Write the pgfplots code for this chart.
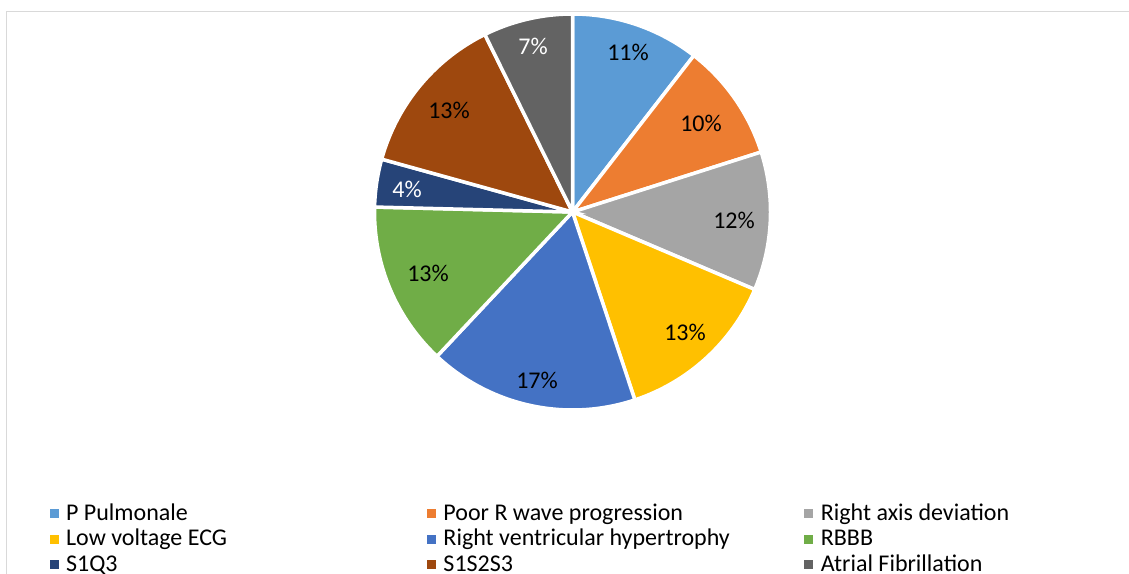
\documentclass[border=0pt]{standalone}
\usepackage{pgfplots}
\pgfplotsset{compat=1.18}
\usepackage{fontspec}
\setmainfont{Carlito}
\definecolor{cA}{HTML}{5B9BD5}
\definecolor{cB}{HTML}{ED7D31}
\definecolor{cC}{HTML}{A5A5A5}
\definecolor{cD}{HTML}{FFC000}
\definecolor{cE}{HTML}{4472C4}
\definecolor{cF}{HTML}{70AD47}
\definecolor{cG}{HTML}{264478}
\definecolor{cH}{HTML}{9E480E}
\definecolor{cI}{HTML}{636363}
\definecolor{bord}{HTML}{D9D9D9}
% Shares (%), clockwise from 12 o'clock:
% P Pulmonale 10.5, Poor R wave 9.6, Right axis 11.3, Low voltage 13.5,
% RVH 17.1, RBBB 13.4, S1Q3 3.9, S1S2S3 13.4, AF 7.3
% Cumulative: 10.5 20.1 31.4 44.9 62.0 75.4 79.3 92.7 100 ; angle = 90 - 3.6*cum
\newcommand{\lbl}[1]{\makebox[361bp][l]{#1}}
\begin{document}
\begin{tikzpicture}
\useasboundingbox (0,0) rectangle (1129bp,574bp);
\begin{axis}[
  at={(0,0)}, anchor=south west,
  scale only axis, width=1129bp, height=574bp,
  xmin=0, xmax=1129, ymin=0, ymax=574, y dir=reverse,
  hide axis, clip=false,
  font=\fontsize{24bp}{28bp}\selectfont,
  legend columns=3,
  legend cell align=left,
  legend style={at={(axis cs:49.5,501)}, anchor=north west, draw=none, fill=none,
    inner sep=0pt, row sep=0pt,
    nodes={inner sep=0pt, text height=19bp, text depth=6.5bp},
    /tikz/every odd column/.append style={column sep=8bp},
    /tikz/every even column/.append style={column sep=0bp},
    font=\fontsize{24bp}{28bp}\selectfont},
]
\def\cx{572.5}\def\cy{212}\def\r{198}
\addplot[forget plot, fill=cA, draw=white, line width=3.5bp, domain=52.2:90, samples=40]
  ({\cx+\r*cos(x)},{\cy-\r*sin(x)}) -- (axis cs:\cx,\cy) -- cycle;
\addplot[forget plot, fill=cB, draw=white, line width=3.5bp, domain=17.64:52.2, samples=40]
  ({\cx+\r*cos(x)},{\cy-\r*sin(x)}) -- (axis cs:\cx,\cy) -- cycle;
\addplot[forget plot, fill=cC, draw=white, line width=3.5bp, domain=-23.04:17.64, samples=40]
  ({\cx+\r*cos(x)},{\cy-\r*sin(x)}) -- (axis cs:\cx,\cy) -- cycle;
\addplot[forget plot, fill=cD, draw=white, line width=3.5bp, domain=-71.64:-23.04, samples=40]
  ({\cx+\r*cos(x)},{\cy-\r*sin(x)}) -- (axis cs:\cx,\cy) -- cycle;
\addplot[forget plot, fill=cE, draw=white, line width=3.5bp, domain=-133.2:-71.64, samples=50]
  ({\cx+\r*cos(x)},{\cy-\r*sin(x)}) -- (axis cs:\cx,\cy) -- cycle;
\addplot[forget plot, fill=cF, draw=white, line width=3.5bp, domain=-181.44:-133.2, samples=40]
  ({\cx+\r*cos(x)},{\cy-\r*sin(x)}) -- (axis cs:\cx,\cy) -- cycle;
\addplot[forget plot, fill=cG, draw=white, line width=3.5bp, domain=-195.48:-181.44, samples=20]
  ({\cx+\r*cos(x)},{\cy-\r*sin(x)}) -- (axis cs:\cx,\cy) -- cycle;
\addplot[forget plot, fill=cH, draw=white, line width=3.5bp, domain=-243.72:-195.48, samples=40]
  ({\cx+\r*cos(x)},{\cy-\r*sin(x)}) -- (axis cs:\cx,\cy) -- cycle;
\addplot[forget plot, fill=cI, draw=white, line width=3.5bp, domain=-270:-243.72, samples=30]
  ({\cx+\r*cos(x)},{\cy-\r*sin(x)}) -- (axis cs:\cx,\cy) -- cycle;

\node at (axis cs:628,52) {11\%};
\node at (axis cs:701,123) {10\%};
\node at (axis cs:734,220) {12\%};
\node at (axis cs:685,332) {13\%};
\node at (axis cs:537,380) {17\%};
\node at (axis cs:428,273) {13\%};
\node[white] at (axis cs:407,189) {4\%};
\node at (axis cs:449,110) {13\%};
\node[white] at (axis cs:533,46) {7\%};

\draw[bord, line width=1.5bp] (axis cs:6.5,620) -- (axis cs:6.5,11.5) -- (axis cs:1200,11.5);

\addlegendimage{legend image code/.code={\fill[cA] (0bp,-3.5bp) rectangle (8bp,4.5bp);}}
\addlegendentry{\lbl{P Pulmonale}}
\addlegendimage{legend image code/.code={\fill[cB] (0bp,-3.5bp) rectangle (8bp,4.5bp);}}
\addlegendentry{\lbl{Poor R wave progression}}
\addlegendimage{legend image code/.code={\fill[cC] (0bp,-3.5bp) rectangle (8bp,4.5bp);}}
\addlegendentry{\lbl{Right axis deviation}}
\addlegendimage{legend image code/.code={\fill[cD] (0bp,-3.5bp) rectangle (8bp,4.5bp);}}
\addlegendentry{\lbl{Low voltage ECG}}
\addlegendimage{legend image code/.code={\fill[cE] (0bp,-3.5bp) rectangle (8bp,4.5bp);}}
\addlegendentry{\lbl{Right ventricular hypertrophy}}
\addlegendimage{legend image code/.code={\fill[cF] (0bp,-3.5bp) rectangle (8bp,4.5bp);}}
\addlegendentry{\lbl{RBBB}}
\addlegendimage{legend image code/.code={\fill[cG] (0bp,-3.5bp) rectangle (8bp,4.5bp);}}
\addlegendentry{\lbl{S1Q3}}
\addlegendimage{legend image code/.code={\fill[cH] (0bp,-3.5bp) rectangle (8bp,4.5bp);}}
\addlegendentry{\lbl{S1S2S3}}
\addlegendimage{legend image code/.code={\fill[cI] (0bp,-3.5bp) rectangle (8bp,4.5bp);}}
\addlegendentry{\lbl{Atrial Fibrillation}}
\end{axis}
\end{tikzpicture}
\end{document}
